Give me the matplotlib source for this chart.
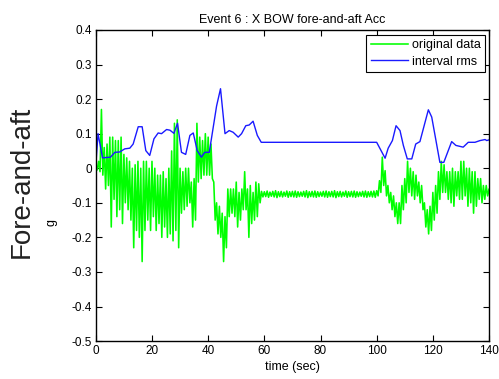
import numpy as np
import matplotlib
matplotlib.use("Agg")
import matplotlib.pyplot as plt

plt.rcParams['font.family'] = ['Liberation Sans', 'DejaVu Sans']

# green trace, read as upper / lower envelope once per second (t = 0..140)
green_hi = [0.01, 0.02, 0.17, 0.06, 0.07, 0.09, 0.09, 0.08, 0.08, 0.09,
            0.04, 0.03, 0.02, 0.00, 0.01, 0.02, 0.00, 0.02, 0.02, 0.00,
            0.02, 0.00, -0.02, -0.02, -0.01, -0.03, 0.00, 0.05, 0.13, 0.14,
            0.00, -0.01, 0.00, 0.00, -0.04, -0.03, 0.13, 0.09, 0.08, 0.10,
            0.09, 0.07, -0.04, -0.10, -0.11, -0.13, -0.14, -0.06, -0.06, -0.06,
            -0.04, -0.07, -0.06, -0.01, -0.06, -0.05, -0.07, -0.04, -0.045, -0.067,
            -0.068, -0.066, -0.069, -0.067, -0.065, -0.068, -0.067, -0.069, -0.066, -0.068,
            -0.067, -0.066, -0.068, -0.069, -0.067, -0.065, -0.068, -0.067, -0.066, -0.068,
            -0.069, -0.067, -0.066, -0.068, -0.067, -0.065, -0.068, -0.067, -0.069, -0.066,
            -0.068, -0.067, -0.066, -0.068, -0.069, -0.067, -0.066, -0.068, -0.067, -0.066,
            -0.065, -0.036, 0.032, -0.007, -0.05, -0.07, -0.08, -0.10, -0.10, -0.05,
            -0.03, 0.02, 0.00, -0.01, -0.02, -0.04, -0.05, -0.10, -0.12, -0.11,
            -0.07, -0.05, -0.01, 0.02, 0.01, -0.01, -0.01, 0.00, -0.01, -0.01,
            0.02, 0.02, 0.00, 0.00, -0.01, -0.01, -0.03, -0.03, -0.05, -0.05,
            -0.06]
green_lo = [-0.005, -0.01, -0.02, -0.06, -0.05, -0.17, -0.09, -0.14, -0.12, -0.16,
            -0.10, -0.12, -0.15, -0.23, -0.18, -0.20, -0.27, -0.18, -0.15, -0.18,
            -0.14, -0.18, -0.16, -0.20, -0.17, -0.20, -0.19, -0.21, -0.18, -0.23,
            -0.13, -0.12, -0.11, -0.10, -0.17, -0.15, -0.04, -0.03, -0.02, -0.02,
            -0.02, -0.03, -0.15, -0.19, -0.20, -0.27, -0.23, -0.14, -0.13, -0.14,
            -0.17, -0.15, -0.12, -0.12, -0.20, -0.16, -0.15, -0.14, -0.10, -0.083,
            -0.082, -0.084, -0.081, -0.083, -0.085, -0.082, -0.083, -0.081, -0.084, -0.082,
            -0.083, -0.084, -0.082, -0.081, -0.083, -0.085, -0.082, -0.083, -0.084, -0.082,
            -0.081, -0.083, -0.084, -0.082, -0.083, -0.085, -0.082, -0.083, -0.081, -0.084,
            -0.082, -0.083, -0.084, -0.082, -0.081, -0.083, -0.084, -0.082, -0.083, -0.084,
            -0.08, -0.07, -0.05, -0.08, -0.10, -0.12, -0.14, -0.16, -0.16, -0.12,
            -0.10, -0.07, -0.08, -0.09, -0.08, -0.10, -0.12, -0.17, -0.19, -0.18,
            -0.15, -0.13, -0.09, -0.07, -0.07, -0.09, -0.10, -0.11, -0.08, -0.09,
            -0.09, -0.08, -0.11, -0.10, -0.13, -0.11, -0.09, -0.10, -0.09, -0.08,
            -0.09]
green_t = np.arange(len(green_hi))

# blue interval rms line
rms_t = [0, 0.8, 2.4, 5.2, 6.8, 8.5, 10.3, 12.1, 13.3, 15.1, 16.5, 17.8, 19.2,
         20.7, 22.2, 23.4, 25.2, 26.4, 27.8, 29.1, 30.5, 32.0, 33.5, 34.7, 36.1,
         37.6, 38.8, 40.4, 43.0, 44.4, 46.0, 47.5, 48.9, 50.7, 51.9, 53.4, 54.6,
         56.0, 57.5, 58.9, 100.0, 103.0, 104.1, 105.6, 106.9, 108.3, 109.5, 110.9,
         112.5, 113.9, 115.4, 116.9, 118.4, 119.6, 121.0, 122.5, 123.9, 126.7,
         128.2, 130.8, 132.6, 135.0, 136.8, 138.6, 139.2, 140.0]
rms_v = [0.01, 0.10, 0.03, 0.032, 0.046, 0.047, 0.056, 0.058, 0.07, 0.12, 0.12,
         0.051, 0.037, 0.085, 0.102, 0.10, 0.112, 0.11, 0.101, 0.13, 0.046, 0.04,
         0.095, 0.102, 0.051, 0.032, 0.046, 0.046, 0.18, 0.23, 0.10, 0.109, 0.104,
         0.09, 0.10, 0.123, 0.125, 0.136, 0.095, 0.075, 0.075, 0.029, 0.058, 0.08,
         0.123, 0.109, 0.066, 0.027, 0.027, 0.07, 0.077, 0.123, 0.169, 0.148,
         0.085, 0.017, 0.017, 0.077, 0.066, 0.061, 0.075, 0.075, 0.08, 0.083,
         0.08, 0.082]

# zigzag between the read envelopes, half a second apart
gt = np.column_stack([green_t, green_t + 0.5]).ravel()
gv = np.column_stack([green_hi, green_lo]).ravel()

fig = plt.figure(figsize=(4.99, 3.79), dpi=100)
ax = fig.add_axes([0.192, 0.100, 0.788, 0.821])

ax.plot(gt, gv, color='#00ff00', lw=1.15, label='original data')
ax.plot(rms_t, rms_v, color='#1a1aff', lw=1.0, label='interval rms')

ax.set_xlim(0, 140)
ax.set_ylim(-0.5, 0.4)
ax.set_xticks(np.arange(0, 141, 20))
ax.set_yticks(np.arange(-0.5, 0.41, 0.1))
ax.set_yticklabels(['-0.5', '-0.4', '-0.3', '-0.2', '-0.1', '0', '0.1', '0.2', '0.3', '0.4'])
ax.tick_params(direction='in', top=True, right=True, length=4, width=0.8,
               labelsize=8.5, pad=3)
for s in ax.spines.values():
    s.set_linewidth(1.0)

ax.set_title('Event 6 : X BOW fore-and-aft Acc', fontsize=9, pad=5)
ax.set_xlabel('time (sec)', fontsize=9, labelpad=3)
ax.set_ylabel('g', fontsize=9)
ax.yaxis.set_label_coords(-0.097, 0.38)

leg = ax.legend(loc='upper right', bbox_to_anchor=(0.99, 0.984), borderaxespad=0,
                fontsize=9, handlelength=3, handletextpad=0.3, labelspacing=0.35,
                fancybox=False, edgecolor='black', framealpha=1, borderpad=0.35)
leg.get_frame().set_linewidth(0.8)

fig.text(0.044, 0.52, 'Fore-and-aft', rotation=90, fontsize=20, color='#222222',
         ha='center', va='center')

fig.savefig('out.png', dpi=100)
